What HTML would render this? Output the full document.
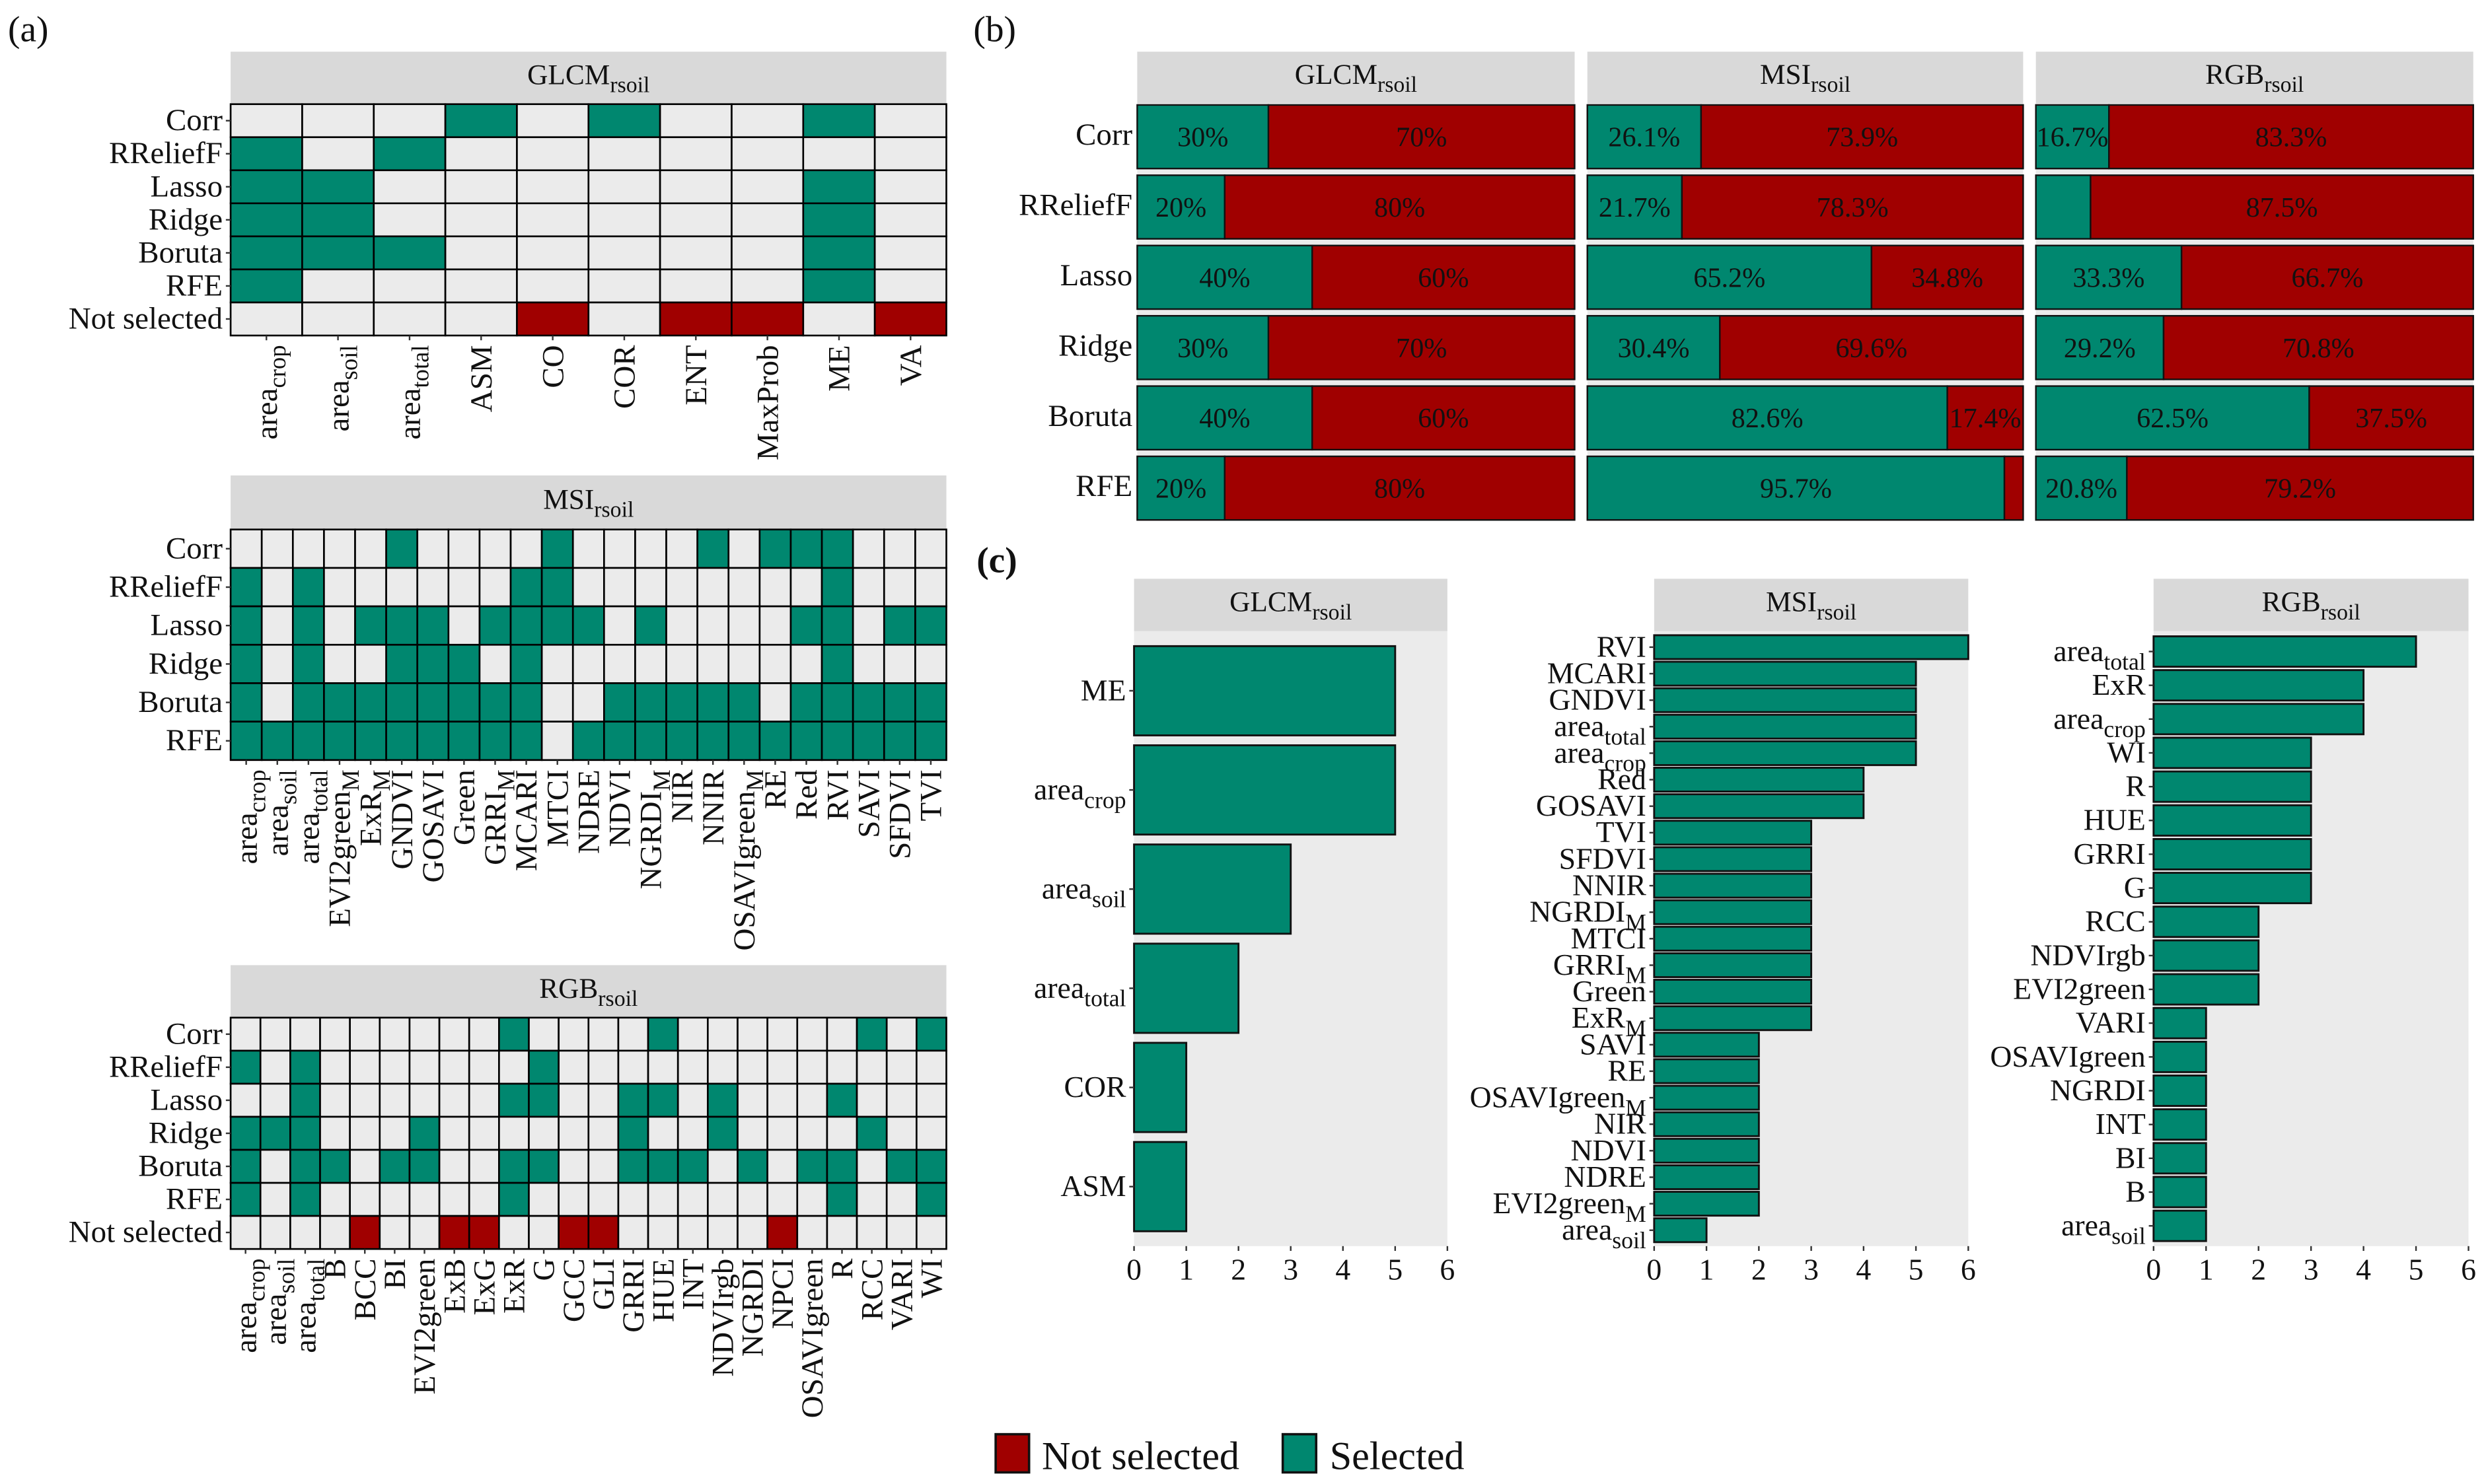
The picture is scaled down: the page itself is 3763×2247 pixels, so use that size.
<!DOCTYPE html>
<html><head><meta charset="utf-8"><style>
html,body{margin:0;padding:0;background:#fff;}
svg{display:block;font-family:"Liberation Serif",serif;}
</style></head><body>
<svg id="fig" xmlns="http://www.w3.org/2000/svg" width="3763" height="2247" viewBox="0 0 1563 933.3">
<rect x="0" y="0" width="1563" height="933.3" fill="#fff"/>
</svg>
<script>
// ---------- data ----------
const methods7 = ["Corr","RReliefF","Lasso","Ridge","Boruta","RFE","Not selected"];
const methods6 = ["Corr","RReliefF","Lasso","Ridge","Boruta","RFE"];
const glcmCols = ["area_crop","area_soil","area_total","ASM","CO","COR","ENT","MaxProb","ME","VA"];
const glcmMatrix = [
 [0,0,0,1,0,1,0,0,1,0],
 [1,0,1,0,0,0,0,0,0,0],
 [1,1,0,0,0,0,0,0,1,0],
 [1,1,0,0,0,0,0,0,1,0],
 [1,1,1,0,0,0,0,0,1,0],
 [1,0,0,0,0,0,0,0,1,0],
 [0,0,0,0,2,0,2,2,0,2]];
const msiCols = ["area_crop","area_soil","area_total","EVI2green_M","ExR_M","GNDVI","GOSAVI","Green","GRRI_M","MCARI","MTCI","NDRE","NDVI","NGRDI_M","NIR","NNIR","OSAVIgreen_M","RE","Red","RVI","SAVI","SFDVI","TVI"];
const msiMatrix = [
 [0,0,0,0,0,1,0,0,0,0,1,0,0,0,0,1,0,1,1,1,0,0,0],
 [1,0,1,0,0,0,0,0,0,1,1,0,0,0,0,0,0,0,0,1,0,0,0],
 [1,0,1,0,1,1,1,0,1,1,1,1,0,1,0,0,0,0,1,1,0,1,1],
 [1,0,1,0,0,1,1,1,0,1,0,0,0,0,0,0,0,0,0,1,0,0,0],
 [1,0,1,1,1,1,1,1,1,1,0,0,1,1,1,1,1,0,1,1,1,1,1],
 [1,1,1,1,1,1,1,1,1,1,0,1,1,1,1,1,1,1,1,1,1,1,1]];
const rgbCols = ["area_crop","area_soil","area_total","B","BCC","BI","EVI2green","ExB","ExG","ExR","G","GCC","GLI","GRRI","HUE","INT","NDVIrgb","NGRDI","NPCI","OSAVIgreen","R","RCC","VARI","WI"];
const rgbMatrix = [
 [0,0,0,0,0,0,0,0,0,1,0,0,0,0,1,0,0,0,0,0,0,1,0,1],
 [1,0,1,0,0,0,0,0,0,0,1,0,0,0,0,0,0,0,0,0,0,0,0,0],
 [0,0,1,0,0,0,0,0,0,1,1,0,0,1,1,0,1,0,0,0,1,0,0,0],
 [1,1,1,0,0,0,1,0,0,0,0,0,0,1,0,0,1,0,0,0,0,1,0,0],
 [1,0,1,1,0,1,1,0,0,1,1,0,0,1,1,1,0,1,0,1,1,0,1,1],
 [1,0,1,0,0,0,0,0,0,1,0,0,0,0,0,0,0,0,0,0,1,0,0,1],
 [0,0,0,0,2,0,0,2,2,0,0,2,2,0,0,0,0,0,2,0,0,0,0,0]];
// panel (b): percent selected per method
const pctGLCM = [30,20,40,30,40,20];
const pctMSI = [26.1,21.7,65.2,30.4,82.6,95.7];
const pctRGB = [16.7,12.5,33.3,29.2,62.5,20.8];
// panel (c): selection counts
const cGlcmCats = ["ME","area_crop","area_soil","area_total","COR","ASM"];
const cGlcmVals = [5,5,3,2,1,1];
const cMsiCats = ["RVI","MCARI","GNDVI","area_total","area_crop","Red","GOSAVI","TVI","SFDVI","NNIR","NGRDI_M","MTCI","GRRI_M","Green","ExR_M","SAVI","RE","OSAVIgreen_M","NIR","NDVI","NDRE","EVI2green_M","area_soil"];
const cMsiVals = [6,5,5,5,5,4,4,3,3,3,3,3,3,3,3,2,2,2,2,2,2,2,1];
const cRgbCats = ["area_total","ExR","area_crop","WI","R","HUE","GRRI","G","RCC","NDVIrgb","EVI2green","VARI","OSAVIgreen","NGRDI","INT","BI","B","area_soil"];
const cRgbVals = [5,4,4,3,3,3,3,3,2,2,2,1,1,1,1,1,1,1];
const xTicks = [0,1,2,3,4,5,6];

// ---------- helpers ----------
const NS = "http://www.w3.org/2000/svg";
const svg = document.getElementById("fig");
const GREEN = "#00876F", RED = "#A00000", CELL = "#EBEBEB", STRIP = "#D9D9D9";
function el(tag, attrs, parent) {
  const e = document.createElementNS(NS, tag);
  for (const k in attrs) e.setAttribute(k, attrs[k]);
  (parent || svg).appendChild(e);
  return e;
}
function label(parent, x, y, s, size, anchor, transform) {
  const t = el("text", {x: x, y: y, "font-size": size, "text-anchor": anchor || "start", fill: "#111"}, parent);
  if (transform) t.setAttribute("transform", transform);
  const parts = s.split("_");
  const a = document.createElementNS(NS, "tspan");
  a.textContent = parts[0];
  t.appendChild(a);
  if (parts.length > 1) {
    const b = document.createElementNS(NS, "tspan");
    b.setAttribute("font-size", size * 0.78);
    b.setAttribute("dy", size * 0.28);
    b.textContent = parts[1];
    t.appendChild(b);
  }
  return t;
}
function strip(x0, x1, y0, y1, title, name) {
  const g = el("g", {});
  
  
  el("rect", {x: x0, y: y0, width: x1 - x0, height: y1 - y0, fill: STRIP}, g);
  const t = label(g, (x0 + x1) / 2, (y0 + y1) / 2 + 4, title, 18, "middle");
  
  
}

// ---------- panel labels ----------
[["(a)",5,26,"normal"],["(b)",612,26,"normal"],["(c)",614,360,"bold"]].forEach(p => {
  const t = el("text", {x: p[1], y: p[2], "font-size": 23, "font-weight": p[3], fill: "#111"});
  t.textContent = p[0];
  
  
});

// ---------- panel (a) heatmaps ----------
function heat(name, title, cols, rows, mat, x0, x1, sTop, y0, y1) {
  strip(x0, x1, sTop, y0, title, name + "-strip");
  const g = el("g", {});
  
  
  const cw = (x1 - x0) / cols.length, rh = (y1 - y0) / rows.length;
  const colX = i => x0 + i * cw;
  const rowY = j => y0 + j * rh;
  for (let j = 0; j < rows.length; j++) {
    for (let i = 0; i < cols.length; i++) {
      const v = mat[j][i];
      const r = el("rect", {x: colX(i), y: rowY(j), width: cw, height: rh,
        fill: v === 1 ? GREEN : (v === 2 ? RED : CELL), stroke: "#000", "stroke-width": 1.1}, g);
      
      
    }
    const cy = rowY(j) + rh / 2;
    el("line", {x1: x0 - 3, x2: x0, y1: cy, y2: cy, stroke: "#333", "stroke-width": 1}, g);
    const t = label(g, x0 - 5, cy + 6, rows[j], 19.5, "end");
    
    
  }
  for (let i = 0; i < cols.length; i++) {
    const cx = colX(i) + cw / 2;
    el("line", {x1: cx, x2: cx, y1: y1, y2: y1 + 3, stroke: "#333", "stroke-width": 1}, g);
    const t = label(g, 0, 0, cols[i], 19.5, "end", "translate(" + (cx + 6.5) + "," + (y1 + 6) + ") rotate(-90)");
    
    
  }
}
heat("glcm-heatmap", "GLCM_rsoil", glcmCols, methods7, glcmMatrix, 145, 595, 32.5, 65.5, 211);
heat("msi-heatmap", "MSI_rsoil", msiCols, methods6, msiMatrix, 145, 595, 299, 333, 478);
heat("rgb-heatmap", "RGB_rsoil", rgbCols, methods7, rgbMatrix, 145, 595, 607, 640, 785.5);

// ---------- panel (b) stacked bars ----------
function pctPanel(name, title, pcts, x0, x1, decimals) {
  strip(x0, x1, 32.5, 65, title, name + "-strip");
  const g = el("g", {});
  
  
  el("rect", {x: x0, y: 65, width: x1 - x0, height: 261, fill: CELL}, g);
  const px = p => x0 + p / 100 * (x1 - x0);
  const pitch = 44.2, bh = 40;
  pcts.forEach((p, j) => {
    const y = 66 + j * pitch;
    const rs = el("rect", {x: px(0), y: y, width: px(p) - px(0), height: bh, fill: GREEN, stroke: "#111", "stroke-width": 1}, g);
    
    
    const rn = el("rect", {x: px(p), y: y, width: px(100) - px(p), height: bh, fill: RED, stroke: "#111", "stroke-width": 1}, g);
    
    
    const q = 100 - p;
    const fmt = v => (decimals ? v.toFixed(1) : Math.round(v)) + "%";
    if (px(p) - px(0) > 40) {
      const t = label(g, (px(0) + px(p)) / 2, y + bh / 2 + 6, fmt(p), 17.5, "middle");
      
      
    }
    if (px(100) - px(p) > 40) {
      const t = label(g, (px(p) + px(100)) / 2, y + bh / 2 + 6, fmt(q), 17.5, "middle");
      
      
    }
  });
  return pitch;
}
pctPanel("glcm-pct-bars", "GLCM_rsoil", pctGLCM, 715, 990, false);
pctPanel("msi-pct-bars", "MSI_rsoil", pctMSI, 998, 1272, true);
pctPanel("rgb-pct-bars", "RGB_rsoil", pctRGB, 1280, 1555, true);
methods6.forEach((m, j) => {
  const t = label(svg, 712, 66 + j * 44.2 + 25, m, 19.5, "end");
  
  
});

// ---------- panel (c) count bars ----------
function countPanel(name, title, cats, vals, x0, x1) {
  const yTop = 397, yBot = 783.7;
  strip(x0, x1, 364, yTop, title, name + "-strip");
  const g = el("g", {});
  
  
  el("rect", {x: x0, y: yTop, width: x1 - x0, height: yBot - yTop, fill: CELL}, g);
  const xs = v => x0 + v / 6 * (x1 - x0);
  const unit = (yBot - yTop) / (cats.length + 0.2);
  const yc = i => yTop + (i + 0.6) * unit;
  cats.forEach((c, i) => {
    const cy = yc(i);
    const r = el("rect", {x: xs(0), y: cy - unit * 0.45, width: xs(vals[i]) - xs(0), height: unit * 0.9, fill: GREEN, stroke: "#111", "stroke-width": 1.2}, g);
    
    
    el("line", {x1: x0 - 3, x2: x0, y1: cy, y2: cy, stroke: "#333", "stroke-width": 1}, g);
    const t = label(g, x0 - 5, cy + 6, c, 19, "end");
    
    
  });
  xTicks.forEach(v => {
    el("line", {x1: xs(v), x2: xs(v), y1: yBot, y2: yBot + 3, stroke: "#333", "stroke-width": 1}, g);
    const t = label(g, xs(v), yBot + 21, String(v), 19, "middle");
    
    
  });
}
countPanel("glcm-count-bars", "GLCM_rsoil", cGlcmCats, cGlcmVals, 713, 910);
countPanel("msi-count-bars", "MSI_rsoil", cMsiCats, cMsiVals, 1040, 1237.5);
countPanel("rgb-count-bars", "RGB_rsoil", cRgbCats, cRgbVals, 1354, 1552);

// ---------- legend ----------
const lg = el("g", {});


[[RED, 626, "Not selected", 655], [GREEN, 806.5, "Selected", 836]].forEach(e => {
  const r = el("rect", {x: e[1], y: 902, width: 21, height: 24, fill: e[0], stroke: "#111", "stroke-width": 1.5}, lg);
  
  
  const t = el("text", {x: e[3], y: 924, "font-size": 25, fill: "#111"}, lg);
  t.textContent = e[2];
  
  
});
</script>
</body></html>
